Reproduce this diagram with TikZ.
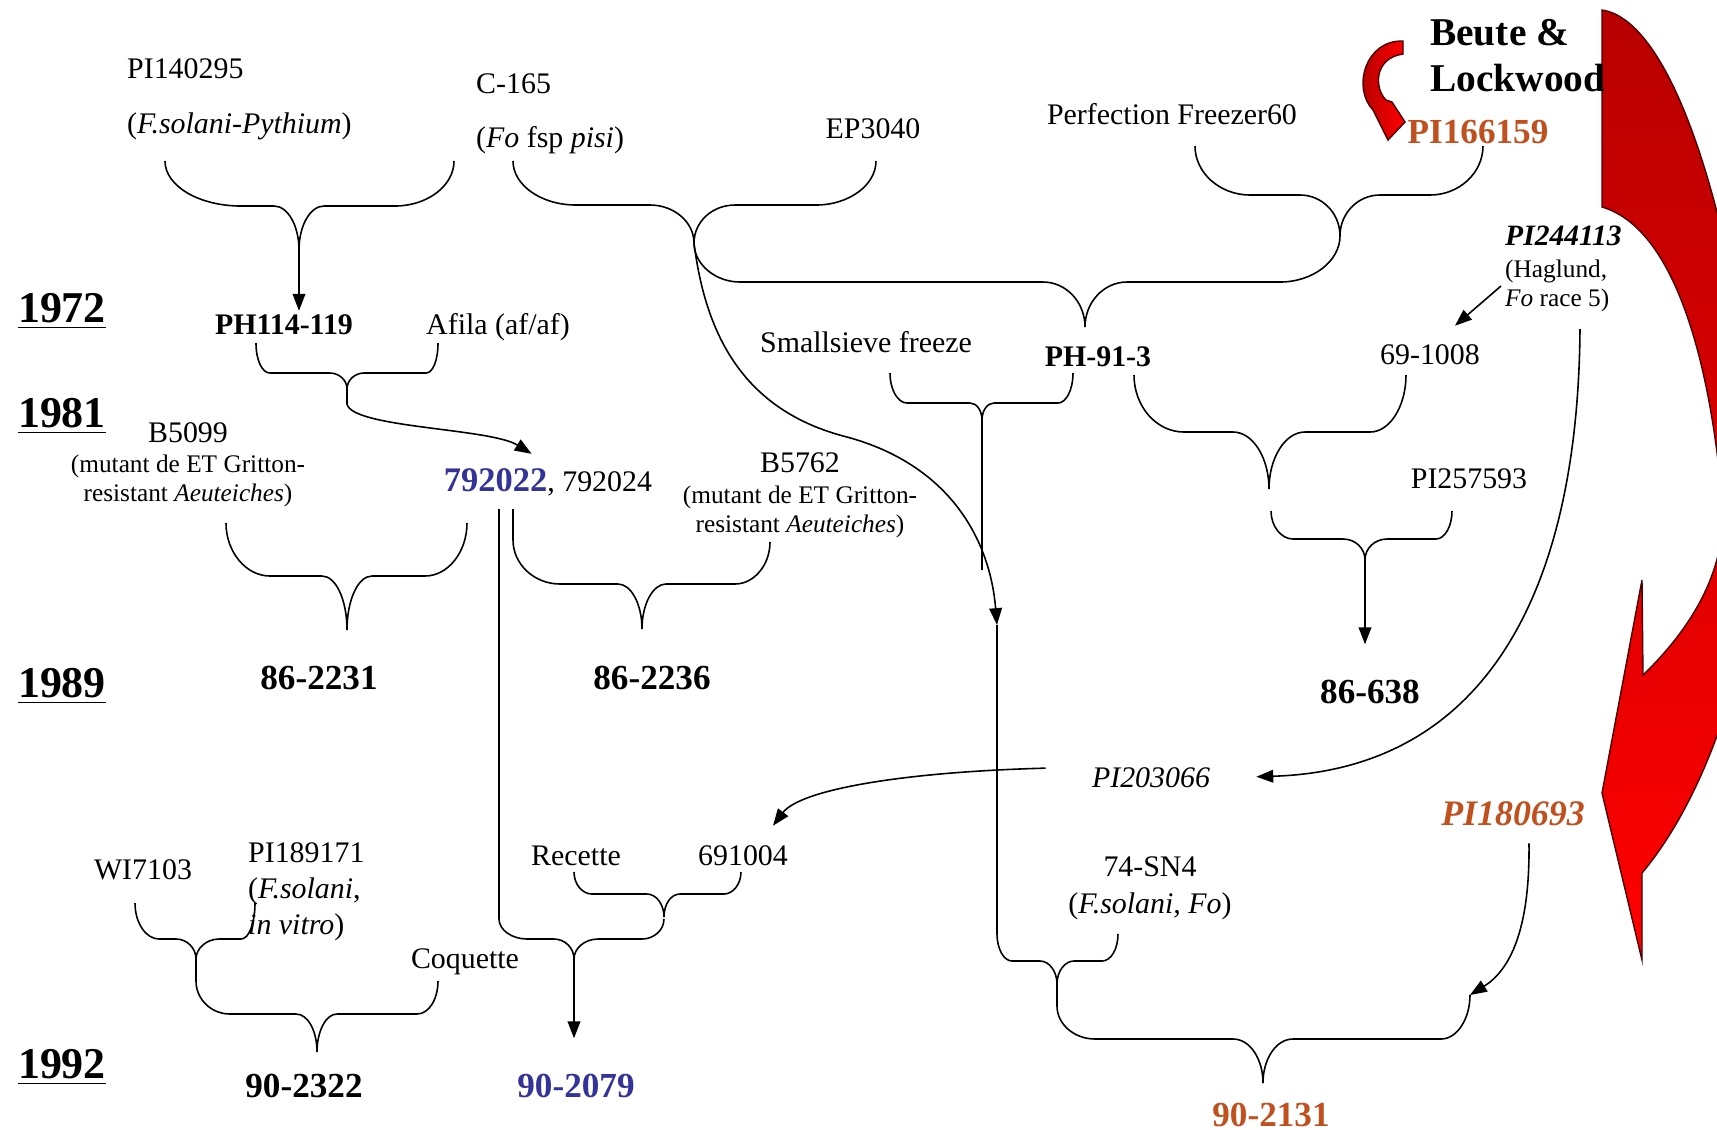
\documentclass[tikz,border=0pt]{standalone}
\usepackage{fontspec}
\setmainfont{Liberation Serif}
\usepackage{tikz}
\usetikzlibrary{calc}
\usetikzlibrary{arrows.meta}
\definecolor{crossblue}{RGB}{51,51,153}
\definecolor{rust}{RGB}{192,80,30}

\begin{document}
\begin{tikzpicture}[x=0.01cm,y=-0.01cm,
	txt/.style={font=\fontsize{8.5}{10}\selectfont,inner sep=1pt},
	note/.style={font=\fontsize{7.2}{8.2}\selectfont,inner sep=1pt,align=center},
	year/.style={font=\fontsize{12.5}{14}\selectfont\bfseries,inner sep=1pt,anchor=base},
	sel/.style={font=\fontsize{8.5}{10}\selectfont\bfseries,inner sep=1pt},
	crossing/.style={font=\fontsize{10}{12}\selectfont\bfseries,inner sep=1pt},
	link/.style={line width=0.45pt},
	arr/.style={line width=0.45pt,-{Triangle[length=4.8pt,width=3.6pt]}}]
			\useasboundingbox[fill=white] (0,0) rectangle (1717,1129);
			\begin{scope}
			\clip (0,0) rectangle (1717,1129);
			\path[draw=black!70!red,line width=0.4pt,top color=red!72!black,bottom color=red] (1602,207) -- (1602,10) .. controls (1670,20) and (1730,200) .. (1760,450) .. controls (1770,600) and (1720,780) .. (1642,873) -- (1642,960) -- (1602,793) -- (1642,580) -- (1643,675) .. controls (1700,620) and (1728,560) .. (1722,500) .. controls (1712,380) and (1680,230) .. (1602,207) -- cycle;
			\end{scope}
			\path[draw=black!70!red,line width=0.4pt,left color=red!65!black,right color=red] (1403,41) .. controls (1365,40) and (1352,88) .. (1373,110) -- (1388,140) -- (1405,122) -- (1392,102) -- (1386,100) .. controls (1374,88) and (1374,58) .. (1403,54) -- cycle;
			\node[year] (y1972) at (62,322) {\underline{1972}};
			\node[year] (y1981) at (62,427) {\underline{1981}};
			\node[year] (y1989) at (62,697) {\underline{1989}};
			\node[year] (y1992) at (62,1078) {\underline{1992}};
			\node[txt,anchor=west] (pi140) at (123,69) {PI140295};
			\node[txt,anchor=west] (fpyth) at (123,126) {(\textit{F.solani-Pythium})};
			\node[txt,anchor=west] (c165) at (472,84) {C-165};
			\node[txt,anchor=west] (fopisi) at (472,140) {(\textit{Fo} fsp \textit{pisi})};
			\node[txt] (ep3040) at (873,129) {EP3040};
			\node[txt] (perf) at (1172,114) {Perfection Freezer60};
			\node[font=\fontsize{11.2}{13.1}\selectfont\bfseries,inner sep=1pt,align=left,anchor=west] (beute) at (1426,56) {Beute \&\\Lockwood};
			\node[crossing,text=rust] (pi166) at (1478,132) {PI166159};
			\node[sel] (ph114) at (284,325) {PH114-119};
			\node[txt] (afila) at (498,327) {Afila (af/af)};
			\node[txt] (sieve) at (866,342) {Smallsieve freeze};
			\node[sel] (ph913) at (1098,357) {PH-91-3};
			\node[sel,font=\fontsize{8.4}{10}\selectfont\bfseries\itshape,anchor=west] (pi244) at (1501,236) {PI244113};
			\node[note,align=left,anchor=west] (haglund) at (1501,286) {(Haglund,\\\textit{Fo} race 5)};
			\node[txt] (n691008) at (1430,355) {69-1008};
			\node[txt] (b5099) at (188,433) {B5099};
			\node[note] (b5099n) at (188,481) {(mutant de ET Gritton-\\resistant \textit{Aeuteiches})};
			\node[txt] (n792) at (548,482) {\textcolor{crossblue}{\fontsize{9.8}{12}\selectfont\bfseries 792022}, 792024};
			\node[txt] (b5762) at (800,463) {B5762};
			\node[note] (b5762n) at (800,512) {(mutant de ET Gritton-\\resistant \textit{Aeuteiches})};
			\node[txt] (pi257) at (1469,479) {PI257593};
			\node[crossing] (n862231) at (319,678) {86-2231};
			\node[crossing] (n862236) at (652,678) {86-2236};
			\node[crossing] (n86638) at (1370,692) {86-638};
			\node[txt,font=\fontsize{8.5}{10}\selectfont\itshape] (pi203) at (1151,778) {PI203066};
			\node[crossing,font=\fontsize{10.2}{12}\selectfont\bfseries\itshape,text=rust] (pi180) at (1513,814) {PI180693};
			\node[txt] (wi7103) at (143,870) {WI7103};
			\node[txt,font=\fontsize{8.5}{10.2}\selectfont,align=left,anchor=west] (pi189) at (244,892) {PI189171\\(\textit{F.solani},\\\textit{in vitro})};
			\node[txt] (recette) at (576,856) {Recette};
			\node[txt] (n691004) at (743,856) {691004};
			\node[txt] (coquette) at (465,962) {Coquette};
			\node[txt,font=\fontsize{8.5}{10.5}\selectfont,align=center] (sn4) at (1150,888) {74-SN4\\(\textit{F.solani, Fo})};
			\node[crossing] (n902322) at (304,1086) {90-2322};
			\node[crossing,text=crossblue] (n902079) at (576,1086) {90-2079};
			\node[crossing,text=rust] (n902131) at (1271,1115) {90-2131};
			\coordinate (tA) at (299,250);
			\coordinate (tB) at (694,243);
			\coordinate (tD) at (1340,236);
			\coordinate (tH) at (347,389);
			\coordinate (tL) at (1365,560);
			\coordinate (tP) at (574,959);
			\coordinate (vE) at (997,625);
			\coordinate (armG) at (1470,995);
			\coordinate (hag) at (1580,329);
			\draw[link] (165,161) .. controls +(0,25) and +(-42,0) .. (241,206) -- (274,206) .. controls +(14,0) and +(0,-24) .. (tA) .. controls +(0,-24) and +(-14,0) .. (324,206) -- (395,206) .. controls +(32,0) and +(0,25) .. (454,161);
			\draw[arr] (tA) -- (tA |- ph114.north);
			\draw[link] (513,161) .. controls +(0,24) and +(-35,0) .. (576,205) -- (650,205) .. controls +(24,0) and +(0,-21) .. (tB) .. controls +(0,-21) and +(-23,0) .. (735,205) -- (816,205) .. controls +(33,0) and +(0,24) .. (876,161);
			\draw[link] (1195,146) .. controls +(0,27) and +(-30,0) .. (1250,195) -- (1300,195) .. controls +(22,0) and +(0,-23) .. (tD) .. controls +(0,-23) and +(-22,0) .. (1380,195) -- (1430,195) .. controls +(29,0) and +(0,27) .. (1483,146);
			\draw[link] (tB) .. controls +(0,21) and +(-25,0) .. (740,282) -- (1043,282) .. controls +(23,0) and +(0,-25) .. (1085,327) .. controls +(0,-25) and +(-23,0) .. (1127,282) -- (1280,282) .. controls +(33,0) and +(0,25) .. (tD);
			\draw[arr] (tB) .. controls (705,330) and (740,410) .. (847,437) .. controls (950,465) and (990,540) .. (vE);
			\draw[link] (890,373) .. controls +(0,17) and +(-9,0) .. (907,403) -- (970,403) .. controls +(7,0) and +(0,-9) .. (982,420) .. controls +(0,-9) and +(-7,0) .. (994,403) -- (1058,403) .. controls +(8,0) and +(0,17) .. (1073,373);
			\draw[link] (982,420) -- (982,570);
			\draw[link] (vE) -- (997,934) .. controls +(0,15) and +(-8,0) .. (1012,961) -- (1040,961) .. controls +(9,0) and +(0,-13) .. (1057,984) .. controls +(0,-13) and +(-9,0) .. (1074,961) -- (1102,961) .. controls +(9,0) and +(0,15) .. (1118,934);
			\draw[link] (1057,984) -- (1057,1006) .. controls +(0,18) and +(-21,0) .. (1095,1039) -- (1233,1039) .. controls +(17,0) and +(0,-24) .. (1263,1083) .. controls +(0,-24) and +(-17,0) .. (1293,1039) -- (1441,1039) .. controls +(16,0) and +(0,24) .. (armG);
			\draw[link] (256,343) .. controls +(0,17) and +(-8,0) .. (270,373) -- (330,373) .. controls +(9,0) and +(0,-9) .. (tH) .. controls +(0,-9) and +(-9,0) .. (364,373) -- (426,373) .. controls +(7,0) and +(0,17) .. (438,343);
			\draw[arr,shorten >=5.5pt] (tH) -- (347,404) .. controls (352,428) and (490,428) .. (n792.north);
			\draw[link] (226,523) .. controls +(0,29) and +(-24,0) .. (270,576) -- (322,576) .. controls +(14,0) and +(0,-30) .. (347,630) .. controls +(0,-30) and +(-14,0) .. (372,576) -- (425,576) .. controls +(23,0) and +(0,29) .. (467,523);
			\draw[link] (513,509) -- (513,540) .. controls +(0,24) and +(-26,0) .. (560,584) -- (618,584) .. controls +(13,0) and +(0,-25) .. (642,629) .. controls +(0,-25) and +(-13,0) .. (666,584) -- (735,584) .. controls +(19,0) and +(0,23) .. (770,542);
			\draw[link] (1134,375) .. controls +(0,31) and +(-28,0) .. (1184,432) -- (1233,432) .. controls +(20,0) and +(0,-31) .. (1269,489) .. controls +(0,-31) and +(-20,0) .. (1305,432) -- (1370,432) .. controls +(20,0) and +(0,31) .. (1406,375);
			\draw[link] (1271,511) .. controls +(0,15) and +(-12,0) .. (1293,539) -- (1343,539) .. controls +(12,0) and +(0,-12) .. (tL) .. controls +(0,-12) and +(-12,0) .. (1387,539) -- (1436,539) .. controls +(9,0) and +(0,15) .. (1452,511);
			\draw[arr,shorten >=9pt] (tL) -- (tL |- n86638.north);
			\draw[link] (135,903) .. controls +(0,20) and +(-13,0) .. (159,939) -- (176,939) .. controls +(11,0) and +(0,-11) .. (196,959) .. controls +(0,-11) and +(-12,0) .. (219,939) -- (241,939) .. controls +(8,0) and +(0,20) .. (255,903);
			\draw[link] (196,959) -- (196,981) .. controls +(0,18) and +(-19,0) .. (230,1014) -- (296,1014) .. controls +(12,0) and +(0,-21) .. (317,1052) .. controls +(0,-21) and +(-11,0) .. (337,1014) -- (417,1014) .. controls +(12,0) and +(0,18) .. (438,981);
			\draw[link] (574,872) .. controls +(0,12) and +(-10,0) .. (592,894) -- (647,894) .. controls +(9,0) and +(0,-13) .. (664,917) .. controls +(0,-13) and +(-9,0) .. (680,894) -- (724,894) .. controls +(9,0) and +(0,12) .. (741,872);
			\draw[link] (499,509) -- (499,919) .. controls +(0,11) and +(-15,0) .. (527,939) -- (554,939) .. controls +(11,0) and +(0,-11) .. (tP) .. controls +(0,-11) and +(-13,0) .. (598,939) -- (642,939) .. controls +(12,0) and +(0,11) .. (664,919);
			\draw[arr,shorten >=9pt] (tP) -- (tP |- n902079.north);
			\draw[arr] (haglund.west) -- ($(n691008.north)+(25,-15)$);
			\draw[arr,shorten >=12pt] (hag) .. controls (1578,600) and (1480,770) .. (pi203.east);
			\draw[arr,shorten <=12pt] ($(pi203.west)+(0,-11)$) .. controls (900,772) and (800,790) .. ($(n691004.north)+(30,-16)$);
			\draw[arr] ($(pi180.south)+(16,13)$) .. controls (1530,930) and (1510,970) .. (armG);
\end{tikzpicture}
\end{document}
